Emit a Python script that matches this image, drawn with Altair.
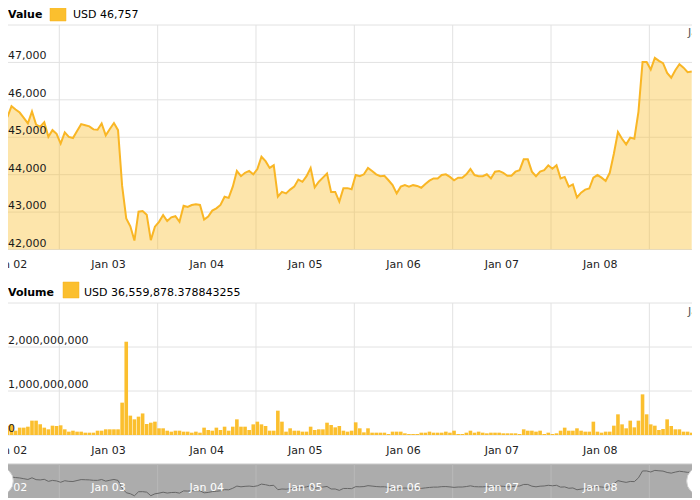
import altair as alt
import pandas as pd

# ---------------- data ----------------
start_time = "2024-01-02 11:20"

price_usd = [
    45540, 45830, 45740, 45660, 45520, 45370, 45690, 45340, 45280, 45400,
    45010, 45190, 45090, 44830, 45130, 45010, 44980, 45170, 45350, 45320,
    45290, 45210, 45200, 45370, 45050, 45220, 45380, 45190, 43700, 42830,
    42620, 42240, 43010, 43030, 42930, 42250, 42610, 42740, 42920, 42760,
    42860, 42890, 42740, 43170, 43140, 43190, 43210, 43190, 42800, 42880,
    43040, 43100, 43190, 43410, 43380, 43680, 44100, 43960, 44050, 44100,
    44010, 44150, 44480, 44360, 44180, 44250, 43410, 43540, 43500, 43600,
    43680, 43870, 43810, 43960, 44180, 43660, 43810, 43920, 44030, 43540,
    43540, 43280, 43640, 43640, 43610, 43990, 43960, 44010, 44180, 44100,
    44010, 43960, 43970, 43850, 43720, 43500, 43680, 43720, 43680, 43720,
    43700, 43650, 43750, 43840, 43900, 43900, 43990, 44010, 43940, 43850,
    43920, 43920, 44010, 44150, 43990, 43960, 43960, 44010, 43900, 44080,
    44100, 44050, 43970, 43970, 44080, 44120, 44410, 44410, 44080, 43960,
    44080, 44120, 44250, 44160, 44250, 43900, 43940, 43680, 43740, 43390,
    43520, 43600, 43630, 43920, 43990, 43920, 43830, 44050, 44560, 45140,
    44960, 44810, 44990, 44960, 45680, 47010, 47010, 46810, 47120, 47040,
    46980, 46720, 46590, 46790, 46950, 46860, 46740, 46757,
]

# hourly volume, millions of USD
volume_musd = [
    212, 242, 98, 167, 167, 189, 326, 326, 242, 167,
    129, 212, 205, 220, 129, 76, 98, 76, 76, 53,
    53, 53, 98, 98, 129, 129, 129, 129, 735, 2120,
    440, 356, 417, 490, 250, 280, 303, 152, 152, 98,
    76, 98, 98, 76, 76, 53, 76, 53, 167, 114,
    98, 167, 114, 189, 98, 189, 356, 189, 189, 114,
    242, 303, 242, 205, 98, 98, 553, 303, 76, 152,
    98, 98, 76, 76, 189, 114, 129, 129, 280, 227,
    174, 205, 98, 76, 98, 288, 152, 60, 152, 53,
    53, 53, 53, 23, 76, 76, 76, 38, 23, 23,
    23, 53, 53, 76, 53, 53, 53, 76, 53, 98,
    23, 23, 53, 98, 53, 76, 53, 38, 53, 53,
    53, 38, 38, 38, 38, 23, 129, 98, 98, 76,
    98, 23, 53, 23, 38, 98, 167, 98, 98, 152,
    98, 76, 76, 303, 76, 53, 76, 76, 212, 470,
    242, 152, 326, 174, 326, 924, 470, 242, 212, 114,
    136, 356, 205, 129, 129, 76, 76, 53,
]

day_lines = ["2024-01-03", "2024-01-04", "2024-01-05", "2024-01-06",
             "2024-01-07", "2024-01-08", "2024-01-09"]
day_labels = ["2024-01-02 12:00", "2024-01-03 12:00", "2024-01-04 12:00",
              "2024-01-05 12:00", "2024-01-06 12:00", "2024-01-07 12:00",
              "2024-01-08 12:00"]
price_ticks = [42000, 43000, 44000, 45000, 46000, 47000, 48000]
price_labels = [42000, 43000, 44000, 45000, 46000, 47000]
volume_ticks = [0, 1000000000, 2000000000, 3000000000]
volume_labels = [0, 1000000000, 2000000000]

value_title = "Value"
value_legend = "USD 46,757"
volume_title = "Volume"
volume_legend = "USD 36,559,878.378843255"

# ---------------- tables ----------------
times = pd.date_range(start_time, periods=len(price_usd), freq="h")
df = pd.DataFrame({
    "t": times,
    "price": price_usd,
    "volume": [v * 1e6 for v in volume_musd],
})
df_days = pd.DataFrame({"t": pd.to_datetime(day_lines)})
df_labels = pd.DataFrame({"t": pd.to_datetime(day_labels)})
one = pd.DataFrame({"a": [0]})

# ---------------- style ----------------
W, H = 684, 492
FONT = "DejaVu Sans"
YEL = "#fbbf2e"
LINE = "#f9b625"
GRID = "#e2e2e2"
TXT = "#1a1a1a"

x_scale = alt.Scale(domain=[
    alt.DateTime(year=2024, month=1, date=2, hours=12, minutes=42),
    alt.DateTime(year=2024, month=1, date=9, hours=9, minutes=11),
], nice=False)
X = alt.X("t:T", scale=x_scale, axis=None)

P = alt.Scale(domain=[42000, 48000], range=[241.5, 17], zero=False, nice=False)
V = alt.Scale(domain=[0, 3000000000], range=[427, 295], zero=False, nice=False)
N = alt.Scale(domain=[42000, 47000], range=[489, 463], zero=False, nice=False)

P_TOP, P_BOT = 17, 241.5
V_TOP, V_BOT = 295, 427
N_TOP, N_BOT = 456, 490


def hgrid(ticks, scale):
    return alt.Chart(pd.DataFrame({"v": ticks})).mark_rule(
        color=GRID, strokeWidth=1
    ).encode(y=alt.Y("v:Q", scale=scale, axis=None), x=alt.value(0), x2=alt.value(W))


def vgrid(top, bot, color=GRID):
    return alt.Chart(df_days).mark_rule(color=color, strokeWidth=1).encode(
        x=X, y=alt.value(top), y2=alt.value(bot))


def ylabels(ticks, scale):
    return alt.Chart(pd.DataFrame({"v": ticks})).mark_text(
        align="left", baseline="bottom", dy=-1, font=FONT, fontSize=11, color=TXT
    ).encode(y=alt.Y("v:Q", scale=scale, axis=None), x=alt.value(0),
             text=alt.Text("v:Q", format=","))


def xlabels(ypos, color="#222222"):
    return alt.Chart(df_labels).mark_text(
        baseline="middle", align="center", font=FONT, fontSize=11, color=color
    ).encode(x=X, y=alt.value(ypos), text=alt.Text("t:T", format="%b %d"))


def header(title, legend, ytext, sw_x, sw_y, txt_x):
    t1 = alt.Chart(pd.DataFrame({"s": [title]})).mark_text(
        align="left", baseline="middle", font=FONT, fontSize=11, fontWeight="bold", color="#000"
    ).encode(x=alt.value(0), y=alt.value(ytext), text="s:N")
    sw = alt.Chart(one).mark_rect(color=YEL, stroke="#f5b21e", strokeWidth=0.5).encode(
        x=alt.value(sw_x), x2=alt.value(sw_x + 16), y=alt.value(sw_y), y2=alt.value(sw_y + 16))
    t2 = alt.Chart(pd.DataFrame({"s": [legend]})).mark_text(
        align="left", baseline="middle", font=FONT, fontSize=11, color="#000"
    ).encode(x=alt.value(txt_x), y=alt.value(ytext), text="s:N")
    return t1 + sw + t2


def corner_j(ypos):
    return alt.Chart(pd.DataFrame({"s": ["Jan 09"]})).mark_text(
        align="left", baseline="middle", font=FONT, fontSize=11, color="#555"
    ).encode(x=alt.value(680), y=alt.value(ypos), text="s:N")


# ---------------- price panel ----------------
price_area = alt.Chart(df).mark_area(color=YEL, opacity=0.4, clip=True).encode(
    x=X, y=alt.Y("price:Q", scale=P, axis=None), y2=alt.datum(42000))
price_line = alt.Chart(df).mark_line(color=LINE, strokeWidth=2, clip=True).encode(
    x=X, y=alt.Y("price:Q", scale=P, axis=None))

price_panel = alt.layer(
    hgrid(price_ticks, P), vgrid(P_TOP, P_BOT), price_area, price_line,
    ylabels(price_labels, P), xlabels(257),
    header(value_title, value_legend, 7, 42, -3, 65), corner_j(25),
)

# ---------------- volume panel ----------------
vol_bars = alt.Chart(df).mark_bar(color=YEL, size=3.6, clip=True).encode(
    x=X, y=alt.Y("volume:Q", scale=V, axis=None), y2=alt.datum(0))

volume_panel = alt.layer(
    hgrid(volume_ticks, V), vgrid(V_TOP, V_BOT), vol_bars,
    ylabels(volume_labels, V), xlabels(443),
    header(volume_title, volume_legend, 284.5, 55, 274, 76), corner_j(304),
)

# ---------------- navigator ----------------
nav_bg = alt.Chart(one).mark_rect(color="#acacac").encode(
    x=alt.value(0), x2=alt.value(W), y=alt.value(N_TOP), y2=alt.value(N_BOT))
nav_top = alt.Chart(one).mark_rule(color="#c9c9c9", strokeWidth=1).encode(
    x=alt.value(0), x2=alt.value(W), y=alt.value(N_TOP))
nav_line = alt.Chart(df).mark_line(color="#666666", strokeWidth=1, clip=True).encode(
    x=X, y=alt.Y("price:Q", scale=N, axis=None))
handle_l = alt.Chart(one).mark_circle(size=820, color="white", opacity=1,
                                      stroke="#cfcfcf", strokeWidth=1).encode(
    x=alt.value(-9), y=alt.value(473))
handle_r = alt.Chart(one).mark_circle(size=820, color="white", opacity=1,
                                      stroke="#cfcfcf", strokeWidth=1).encode(
    x=alt.value(693), y=alt.value(473))

nav_panel = alt.layer(
    nav_bg, nav_top, vgrid(N_TOP, N_BOT, "#b9b9b9"), nav_line,
    xlabels(480, "#ffffff"), handle_l, handle_r,
)

chart = alt.layer(price_panel, volume_panel, nav_panel).resolve_scale(
    y="independent"
).properties(
    width=W, height=H, padding=0, autosize=alt.AutoSizeParams(type="none"),
    background="white",
).configure_view(stroke=None)

chart.save("out.html", embed_options={"renderer": "svg", "actions": False})
